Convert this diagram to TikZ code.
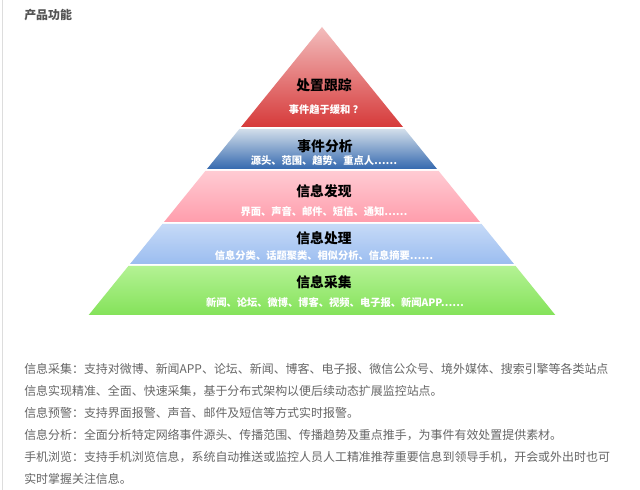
\documentclass[tikz,border=0pt]{standalone}
\usepackage{fontspec}
\setmainfont{Noto Sans CJK SC}
\usetikzlibrary{positioning}
\definecolor{Frame}{HTML}{DDDDDD}
\definecolor{Body}{HTML}{666666}
\definecolor{Head}{HTML}{555555}

\begin{document}
\begin{tikzpicture}[x=0.025cm,y=-0.025cm,node distance=1pt,
        tier/.style={font=\fontsize{9.8}{11}\selectfont\bfseries,text=black,inner sep=0pt},
        tiernote/.style={font=\fontsize{7.3}{9}\selectfont\bfseries,text=white,inner sep=0pt},
        bodyline/.style={font=\fontsize{8.5}{10}\selectfont,text=Body,anchor=west,inner sep=0pt}]
        \useasboundingbox (0,0) rectangle (640,490);
        \fill[white] (0,0) rectangle (640,490);
        \draw[Frame] (2.5,0) -- (2.5,490);
        \node[anchor=west,inner sep=0pt,font=\fontsize{8.5}{10}\selectfont\bfseries,text=Head] (title) at (24,15) {产品功能};
        % pyramid tiers
        \foreach \ya/\yb/\ca/\cb in {27/127/F3BDBD/D63A3A, 129/169/D2DEEA/3569AF,
            171/222/FFCBD3/FF9DAC, 224/264/C6DAF7/9BBDF0, 266/315/B4F294/84E25A}{
          \definecolor{TierTop}{HTML}{\ca}
          \definecolor{TierBot}{HTML}{\cb}
          \shade[top color=TierTop,bottom color=TierBot]
            ({322-0.81*(\ya-27)},\ya) -- ({322+0.81*(\ya-27)},\ya) --
            ({322+0.81*(\yb-27)},\yb) -- ({322-0.81*(\yb-27)},\yb) -- cycle;
        }
        \node[tier] (track) at (324,85) {处置跟踪};
        \node[tiernote] (trackn) at (326,110) {事件趋于缓和 ？};
        \node[tier] (anal) at (325,146) {事件分析};
        \node[tiernote] (analn) at (324,161) {源头、范围、趋势、重点人……};
        \node[tier] (find) at (324,191) {信息发现};
        \node[tiernote] (findn) at (324,212) {界面、声音、邮件、短信、通知……};
        \node[tier] (proc) at (324,238) {信息处理};
        \node[tiernote] (procn) at (324,256) {信息分类、话题聚类、相似分析、信息摘要……};
        \node[tier] (coll) at (324,282) {信息采集};
        \node[tiernote] (colln) at (335,303) {新闻、论坛、微博、博客、视频、电子报、新闻APP……};
        % description
        \node[bodyline] (l1) at (24,369) {信息采集：支持对微博、新闻APP、论坛、新闻、博客、电子报、微信公众号、境外媒体、搜索引擎等各类站点};
        \node[bodyline] (l2) at (24,391) {信息实现精准、全面、快速采集，基于分布式架构以便后续动态扩展监控站点。};
        \node[bodyline] (l3) at (24,413) {信息预警：支持界面报警、声音、邮件及短信等方式实时报警。};
        \node[bodyline] (l4) at (24,435) {信息分析：全面分析特定网络事件源头、传播范围、传播趋势及重点推手，为事件有效处置提供素材。};
        \node[bodyline] (l5) at (24,457) {手机浏览：支持手机浏览信息，系统自动推送或监控人员人工精准推荐重要信息到领导手机，开会或外出时也可};
        \node[bodyline] (l6) at (24,479) {实时掌握关注信息。};
      \end{tikzpicture}
\end{document}
